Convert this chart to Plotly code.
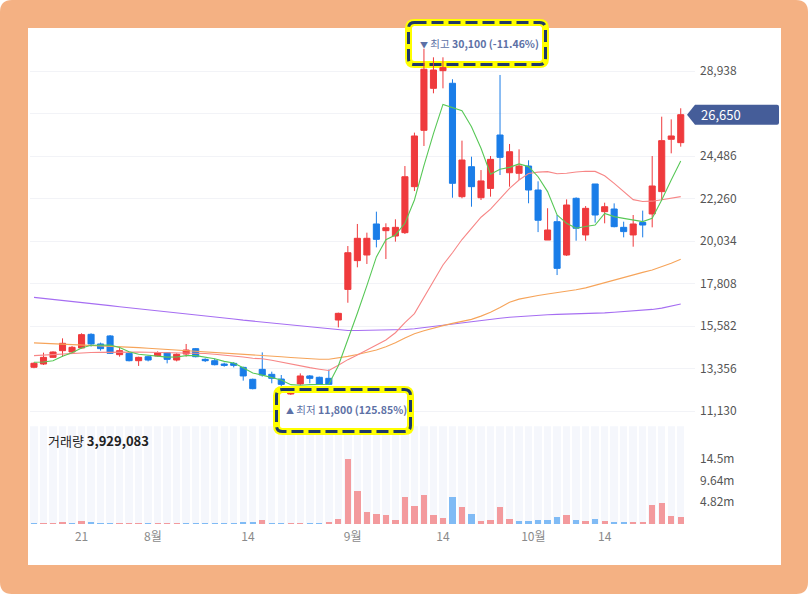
import plotly.graph_objects as go

# ---- data (daily candles, KRW) ----
opens = [13420, 13590, 13940, 14290, 14220, 14430, 15145, 14640, 15060, 14080,
         14150, 13765, 13975, 14010, 14185, 13800, 14115, 14395, 13835, 13765,
         13590, 13625, 13415, 12790, 13310, 13050, 12805, 12020, 12545, 12965,
         12895, 12840, 15895, 17500, 19005, 19300, 20925, 20575, 20295, 20470,
         22880, 25830, 28030, 28955, 28295, 22355, 23925, 22300, 22790, 25585,
         23610, 23580, 23960, 22705, 20085, 21045, 19300, 22270, 20350, 23020,
         21570, 21710, 20750, 20350, 21010, 21450, 22620, 25360, 25185]
highs = [13680, 14185, 14255, 14935, 14535, 15200, 15200, 14710, 15110, 14500,
         14185, 13975, 14030, 14255, 14220, 14150, 14640, 14430, 13890, 13870,
         13660, 13695, 13450, 12825, 14200, 13190, 13015, 12230, 13100, 13015,
         12930, 13300, 16280, 19770, 20925, 20470, 21570, 20960, 21170, 23960,
         25710, 30100, 29655, 29655, 28505, 25290, 24450, 23750, 24485, 28730,
         25115, 24835, 24260, 23160, 21750, 21395, 22215, 22320, 21865, 23020,
         22040, 22005, 21045, 21395, 21625, 24485, 26545, 26405, 26985]
lows = [13370, 13540, 13920, 13975, 14185, 14395, 14500, 14290, 14115, 13975,
        13730, 13490, 13730, 13975, 13625, 13730, 13975, 13940, 13695, 13520,
        13450, 13415, 12720, 12265, 12930, 12580, 12400, 11800, 12490, 12580,
        12510, 12490, 15510, 16800, 18655, 18830, 19700, 19090, 20000, 20400,
        22650, 25010, 27770, 28030, 22300, 22270, 21830, 22180, 22355, 23490,
        22880, 23230, 22010, 20500, 20085, 18250, 19250, 20050, 20050, 20995,
        20960, 20750, 20225, 19735, 20225, 20750, 22180, 24625, 24975]
closes = [13630, 13940, 14220, 14675, 14465, 15130, 14640, 14395, 14150, 14290,
          13765, 13940, 13800, 14185, 13835, 14100, 14325, 13975, 13765, 13555,
          13520, 13520, 12965, 12300, 13015, 12840, 12525, 12090, 12965, 12840,
          12525, 12525, 16245, 19420, 20175, 20175, 20120, 20730, 20750, 23400,
          25535, 29030, 28990, 29115, 23055, 24275, 22880, 23180, 24310, 24415,
          24710, 23960, 22705, 21120, 20610, 18600, 21920, 20700, 21745, 21395,
          21830, 20785, 20525, 20925, 20870, 22915, 25290, 25535, 26650]

# volume in shares, and whether each volume bar is drawn red (up) or blue
volumes = [150e3, 120e3, 120e3, 380e3, 120e3, 600e3, 450e3, 120e3, 120e3, 120e3,
           120e3, 120e3, 120e3, 120e3, 120e3, 120e3, 120e3, 120e3, 120e3, 120e3,
           120e3, 150e3, 380e3, 380e3, 900e3, 120e3, 120e3, 120e3, 120e3, 120e3,
           120e3, 450e3, 1.05e6, 14.4e6, 7.14e6, 2.64e6, 2.12e6, 1.89e6, 0.92e6, 6.0e6,
           3.92e6, 6.39e6, 1.89e6, 1.37e6, 5.87e6, 3.62e6, 2.12e6, 0.62e6, 0.92e6, 3.62e6,
           1.14e6, 0.69e6, 0.69e6, 0.92e6, 0.92e6, 1.44e6, 1.89e6, 0.92e6, 0.69e6, 1.14e6,
           0.69e6, 0.39e6, 0.17e6, 0.39e6, 0.39e6, 4.07e6, 4.59e6, 1.67e6, 1.44e6]
vol_up = [0, 1, 1, 1, 0, 1, 0, 0, 0, 1,
          1, 1, 0, 1, 1, 1, 0, 0, 0, 0,
          0, 0, 0, 0, 1, 0, 0, 1, 1, 0,
          0, 1, 1, 1, 1, 1, 1, 1, 1, 1,
          1, 1, 1, 1, 0, 1, 0, 1, 1, 1,
          1, 0, 0, 0, 0, 0, 1, 0, 1, 0,
          1, 0, 0, 1, 1, 1, 1, 1, 1]

ma5 = [13680, 13700, 13760, 14000, 14180, 14430, 14570, 14590, 14590, 14460,
       14230, 14100, 14050, 13990, 13950, 13960, 14030, 14030, 13950, 13870,
       13730, 13640, 13400, 13120, 13010, 12890, 12750, 12510, 12480, 12510,
       12530, 12530, 13500, 14850, 16250, 17700, 19200, 20100, 20350, 20960,
       22180, 23980, 25660, 27190, 27040, 26860, 26020, 24890, 23530, 23790,
       23890, 24070, 23930, 23400, 22620, 21400, 20960, 20700, 20790, 20870,
       21480, 21310, 21220, 21130, 21050, 21220, 22180, 23230, 24220]
ma20 = [14030, 14060, 14090, 14120, 14150, 14170, 14190, 14200, 14210, 14220,
        14220, 14215, 14210, 14200, 14195, 14190, 14185, 14170, 14140, 14100,
        14060, 14010, 13960, 13890, 13870, 13790, 13690, 13560, 13480, 13400,
        13320, 13250, 13530, 13820, 14060, 14310, 14560, 14850, 15230, 15760,
        16230, 17070, 17880, 18780, 19420, 20110, 20700, 21280, 21700, 22250,
        22790, 23230, 23570, 23640, 23665, 23560, 23580, 23650, 23690, 23680,
        23450, 23050, 22600, 22200, 22100, 22120, 22190, 22280, 22360]
ma60 = [14700, 14680, 14660, 14640, 14620, 14600, 14580, 14560, 14540, 14510,
        14480, 14450, 14420, 14390, 14360, 14330, 14300, 14270, 14240, 14210,
        14180, 14150, 14120, 14080, 14050, 14010, 13970, 13930, 13890, 13860,
        13840, 13840, 13900, 13990, 14090, 14200, 14320, 14500, 14700, 14950,
        15180, 15330, 15480, 15600, 15720, 15820, 15930, 16100, 16300, 16550,
        16830, 16990, 17100, 17180, 17260, 17330, 17400, 17480, 17580, 17720,
        17850, 17990, 18120, 18260, 18390, 18510, 18680, 18870, 19075]
ma120 = [17080, 17030, 16970, 16920, 16860, 16810, 16760, 16700, 16650, 16590,
         16540, 16490, 16430, 16380, 16330, 16270, 16220, 16160, 16110, 16060,
         16000, 15950, 15890, 15840, 15790, 15730, 15680, 15620, 15570, 15510,
         15460, 15410, 15370, 15350, 15350, 15355, 15360, 15370, 15380, 15400,
         15440, 15500, 15580, 15650, 15720, 15780, 15840, 15890, 15940, 15990,
         16040, 16080, 16120, 16150, 16170, 16190, 16200, 16210, 16230, 16250,
         16270, 16300, 16330, 16360, 16400, 16450, 16520, 16620, 16735]

x_tick_pos = [5, 12.5, 22.5, 33.5, 43, 52.5, 60]
x_tick_text = ["21", "8월", "14", "9월", "14", "10월", "14"]
price_ticks = [11130, 13356, 15582, 17808, 20034, 22260, 24486, 26712, 28938]
vol_ticks = [4.82e6, 9.64e6, 14.46e6]
vol_tick_text = ["4.82m", "9.64m", "14.5m"]

tri = '<span style="font-size:8px">{}</span>'
hi_text = tri.format("▼") + " 최고 <b>30,100 (-11.46%)</b>"
lo_text = tri.format("▲") + " 최저 <b>11,800 (125.85%)</b>"
vol_text = "거래량 <b>3,929,083</b>"

# ---- layout geometry ----
W, H = 808, 594
ML, MR, MT, MB = 30, 113, 28, 70
PW, PH = W - ML - MR, H - MT - MB
PRICE_RANGE = [10407, 31190]
VOL_MAX = 21.6e6

RED, BLUE = "#ef3a3d", "#1a7de8"
VRED, VBLUE = "#f39a9d", "#80bbf5"


def px(xp):
    return (xp - ML) / PW


def py(yp):
    return (H - MB - yp) / PH


def rrect(x0, y0, x1, y1, r):
    pts = [
        ("M", [(x0 + r, y0)]), ("L", [(x1 - r, y0)]), ("Q", [(x1, y0), (x1, y0 + r)]),
        ("L", [(x1, y1 - r)]), ("Q", [(x1, y1), (x1 - r, y1)]),
        ("L", [(x0 + r, y1)]), ("Q", [(x0, y1), (x0, y1 - r)]),
        ("L", [(x0, y0 + r)]), ("Q", [(x0, y0), (x0 + r, y0)]),
    ]
    out = ""
    for cmd, ps in pts:
        out += cmd + " ".join(f"{px(a):.5f},{py(b):.5f}" for a, b in ps) + " "
    return out + "Z"


n = len(closes)
for arr in (opens, highs, lows, volumes, vol_up, ma5, ma20, ma60, ma120):
    assert len(arr) == n
idx = list(range(n))

fig = go.Figure()

# volume panel background bands and bars
fig.add_trace(go.Bar(x=idx, y=[VOL_MAX] * n, width=0.78, marker=dict(color="#f5f7fc", line_width=0),
                     xaxis="x2", yaxis="y2", hoverinfo="skip"))
fig.add_trace(go.Bar(x=idx, y=volumes, width=0.66,
                     marker=dict(color=[VRED if u else VBLUE for u in vol_up], line_width=0),
                     xaxis="x2", yaxis="y2", hoverinfo="skip"))

# moving averages
for vals, col in ((ma120, "#a66ef2"), (ma60, "#f6a45a"), (ma20, "#f78787"), (ma5, "#58c857")):
    fig.add_trace(go.Scatter(x=idx, y=vals, mode="lines", line=dict(color=col, width=1.1),
                             hoverinfo="skip"))

fig.add_trace(go.Candlestick(
    x=idx, open=opens, high=highs, low=lows, close=closes,
    increasing=dict(line=dict(color=RED, width=1), fillcolor=RED),
    decreasing=dict(line=dict(color=BLUE, width=1), fillcolor=BLUE),
    whiskerwidth=0, hoverinfo="skip",
))

ppp = (PRICE_RANGE[1] - PRICE_RANGE[0]) / (PH * 0.8)  # price units per pixel
last = closes[-1]

shapes = [
    # orange frame with white card
    dict(type="path", xref="paper", yref="paper", path=rrect(0, 0, W, H, 12),
         fillcolor="#f4b183", line_width=0, layer="below"),
    dict(type="rect", xref="paper", yref="paper", x0=px(28), x1=px(781), y0=py(28), y1=py(565),
         fillcolor="white", line_width=0, layer="below"),
    # high marker box
    dict(type="path", xref="paper", yref="paper", path=rrect(408.5, 22.5, 545.5, 64.5, 6),
         fillcolor="white", line=dict(color="#ffff00", width=7), layer="below"),
    dict(type="path", xref="paper", yref="paper", path=rrect(408.5, 22.5, 545.5, 64.5, 6),
         line=dict(color="#1f3a68", width=3, dash="12px,5px"), layer="below"),
    # low marker box
    dict(type="rect", xref="paper", yref="paper", x0=px(280), x1=px(407), y0=py(395), y1=py(428),
         fillcolor="white", line_width=0, layer="above"),
    dict(type="path", xref="paper", yref="paper", path=rrect(276.5, 389.5, 410.5, 431.5, 6),
         line=dict(color="#ffff00", width=7), layer="above"),
    dict(type="path", xref="paper", yref="paper", path=rrect(276.5, 389.5, 410.5, 431.5, 6),
         line=dict(color="#1f3a68", width=3, dash="12px,5px"), layer="above"),
    # last price tag
    dict(type="path", xref="paper", yref="y", layer="above", fillcolor="#455d99", line_width=0,
         path=(f"M{px(687):.5f},{last} L{px(695):.5f},{last + 10 * ppp} L{px(777):.5f},{last + 10 * ppp} "
               f"Q{px(779):.5f},{last + 10 * ppp} {px(779):.5f},{last + 8 * ppp} "
               f"L{px(779):.5f},{last - 8 * ppp} Q{px(779):.5f},{last - 10 * ppp} {px(777):.5f},{last - 10 * ppp} "
               f"L{px(695):.5f},{last - 10 * ppp} Z")),
]

annotations = [
    dict(xref="paper", yref="paper", x=px(479), y=py(43), xanchor="center", yanchor="middle",
         text=hi_text, showarrow=False, font=dict(size=10.5, color="#5d71a6")),
    dict(xref="paper", yref="paper", x=px(346), y=py(409), xanchor="center", yanchor="middle",
         text=lo_text, showarrow=False, font=dict(size=10.5, color="#5d71a6")),
    dict(xref="paper", yref="y", x=px(699), y=last, xanchor="left", yanchor="middle",
         text=f"{last:,}", showarrow=False, font=dict(size=13, color="white")),
    dict(xref="paper", yref="paper", x=px(46), y=py(440), xanchor="left", yanchor="middle",
         text=vol_text, showarrow=False, font=dict(size=13, color="#222")),
]

fig.update_layout(
    width=W, height=H, margin=dict(l=ML, r=MR, t=MT, b=MB),
    paper_bgcolor="white", plot_bgcolor="white",
    font=dict(family="Noto Sans CJK KR, Open Sans, sans-serif", size=12, color="#555"),
    showlegend=False, barmode="overlay", bargap=0, boxgap=0.36, boxgroupgap=0,
    hovermode=False,
    xaxis=dict(domain=[0, 1], range=[-0.42, n + 0.5], anchor="y", showticklabels=False,
               showgrid=False, zeroline=False, rangeslider=dict(visible=False)),
    xaxis2=dict(domain=[0, 1], range=[-0.42, n + 0.5], anchor="y2", matches="x",
                tickvals=x_tick_pos, ticktext=x_tick_text, showgrid=False, zeroline=False,
                tickfont=dict(size=12, color="#8a8a8a"), ticks="", ticklabelstandoff=4),
    yaxis=dict(domain=[0.2, 1], range=PRICE_RANGE, side="right", tickvals=price_ticks,
               ticktext=[f"{v:,}" if v != 26712 else "" for v in price_ticks],
               gridcolor="#f2f3f7", zeroline=False, tickfont=dict(size=12, color="#555"),
               ticklabelstandoff=4),
    yaxis2=dict(domain=[0, 0.197], range=[0, VOL_MAX], side="right", tickvals=vol_ticks,
                ticktext=vol_tick_text, showgrid=False, zeroline=False,
                tickfont=dict(size=12, color="#555"), ticklabelstandoff=4),
    shapes=shapes, annotations=annotations,
)

# the page's default 8px body margin would push the card off its corner
fig.write_html("out.html", config={"displayModeBar": False},
               post_script="document.body.style.margin='0';")
